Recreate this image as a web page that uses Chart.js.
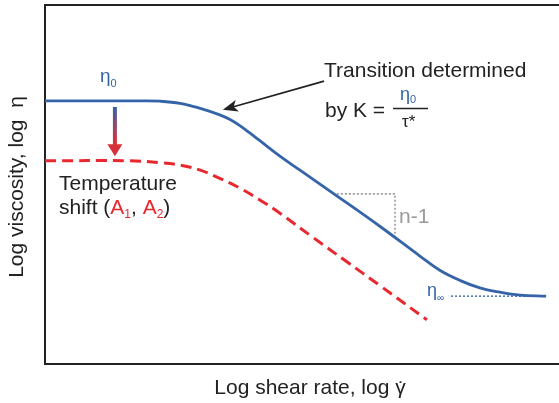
<!DOCTYPE html>
<html>
<head>
<meta charset="utf-8">
<script src="https://cdn.jsdelivr.net/npm/chart.js@4.4.1/dist/chart.umd.min.js"></script>
<style>
  body { margin: 0; background: #fff; }
  canvas { display: block; }
</style>
</head>
<body>
<canvas id="flowcurve" width="559" height="403"></canvas>
<script>
// log shear rate (x) vs log viscosity (y), arbitrary units on a 0..10 frame
var blueX = [0, 1.85, 2.24, 2.63, 3.02, 3.40, 3.60, 3.79, 3.99, 4.18, 4.57, 4.96, 5.60, 6.52, 7.30, 7.68, 8.07, 8.46, 8.85, 9.24, 9.75];
var blueY = [7.33, 7.33, 7.32, 7.26, 7.12, 6.94, 6.81, 6.64, 6.43, 6.22, 5.79, 5.40, 4.76, 3.83, 3.00, 2.61, 2.33, 2.12, 2.00, 1.92, 1.89];
var redX = [0, 1.65, 2.24, 2.63, 3.02, 3.40, 3.79, 4.18, 4.57, 5.21, 5.88, 6.52, 7.43];
var redY = [5.66, 5.66, 5.61, 5.54, 5.40, 5.17, 4.90, 4.57, 4.20, 3.53, 2.84, 2.18, 1.23];
// n-1 slope triangle and eta-infinity guide
var slopeX = [5.6, 6.81, 6.81];
var slopeY = [4.74, 4.74, 3.54];
var etaInfX = [7.9, 9.35];
var etaInfY = [1.89, 1.89];
// annotation arrows (tail, tip)
var shiftArrowX = [1.36, 1.36];
var shiftArrowY = [7.16, 5.79];
var noteArrowX = [5.43, 3.46];
var noteArrowY = [7.88, 7.08];

var FONT = '"Liberation Sans", Arial, Helvetica, sans-serif';
var blue = '#3564a8';
var red = '#e8282e';
var ink = '#222222';
var gray = '#9a9a9a';

function toPoints(xs, ys) {
  return xs.map(function (x, i) { return {x: x, y: ys[i]}; });
}

function textRun(ctx, x, y, parts) {
  parts.forEach(function (p) {
    ctx.font = p.size + 'px ' + FONT;
    ctx.fillStyle = p.color;
    ctx.fillText(p.t, x, y + (p.dy || 0));
    x += ctx.measureText(p.t).width;
  });
}

function arrowHead(ctx, x0, y0, x1, y1, len, half) {
  var ang = Math.atan2(y1 - y0, x1 - x0);
  ctx.save();
  ctx.translate(x1, y1);
  ctx.rotate(ang);
  ctx.beginPath();
  ctx.moveTo(0, 0);
  ctx.lineTo(-len, -half);
  ctx.lineTo(-len * 0.75, 0);
  ctx.lineTo(-len, half);
  ctx.closePath();
  ctx.fill();
  ctx.restore();
}

var annotations = {
  id: 'annotations',
  afterDatasetsDraw: function (chart) {
    var ctx = chart.ctx, a = chart.chartArea;
    var sx = chart.scales.x, sy = chart.scales.y;
    ctx.save();

    // top frame line
    ctx.strokeStyle = ink;
    ctx.lineWidth = 2;
    ctx.beginPath();
    ctx.moveTo(a.left - 1, a.top);
    ctx.lineTo(a.right, a.top);
    ctx.stroke();

    // temperature shift arrow, blue -> red
    var ax = sx.getPixelForValue(shiftArrowX[0]);
    var ay0 = sy.getPixelForValue(shiftArrowY[0]);
    var ay1 = sy.getPixelForValue(shiftArrowY[1]);
    var grad = ctx.createLinearGradient(0, ay0, 0, ay1);
    grad.addColorStop(0, blue);
    grad.addColorStop(0.7, '#d8303a');
    grad.addColorStop(1, '#d8303a');
    ctx.strokeStyle = grad;
    ctx.fillStyle = '#d8303a';
    ctx.lineWidth = 4;
    ctx.beginPath();
    ctx.moveTo(ax, ay0);
    ctx.lineTo(ax, ay1 - 10);
    ctx.stroke();
    ctx.beginPath();
    ctx.moveTo(ax - 7.5, ay1 - 12);
    ctx.lineTo(ax + 7.5, ay1 - 12);
    ctx.lineTo(ax, ay1);
    ctx.closePath();
    ctx.fill();

    // transition note arrow
    var nx0 = sx.getPixelForValue(noteArrowX[0]), ny0 = sy.getPixelForValue(noteArrowY[0]);
    var nx1 = sx.getPixelForValue(noteArrowX[1]), ny1 = sy.getPixelForValue(noteArrowY[1]);
    ctx.strokeStyle = ink;
    ctx.fillStyle = ink;
    ctx.lineWidth = 1.6;
    ctx.beginPath();
    ctx.moveTo(nx0, ny0);
    ctx.lineTo(nx1 + (nx0 - nx1) * 0.08, ny1 + (ny0 - ny1) * 0.08);
    ctx.stroke();
    arrowHead(ctx, nx0, ny0, nx1, ny1, 15, 6);

    ctx.textAlign = 'left';
    ctx.textBaseline = 'alphabetic';

    // eta_0 label
    textRun(ctx, 100, 82, [
      {t: 'η', color: blue, size: 19},
      {t: '0', color: blue, size: 11, dy: 5}
    ]);

    // transition text with fraction
    textRun(ctx, 324, 77, [{t: 'Transition determined', color: ink, size: 21}]);
    textRun(ctx, 325, 117, [{t: 'by K =', color: ink, size: 21}]);
    textRun(ctx, 400, 100, [
      {t: 'η', color: blue, size: 18},
      {t: '0', color: blue, size: 11, dy: 3}
    ]);
    ctx.strokeStyle = ink;
    ctx.lineWidth = 1.5;
    ctx.beginPath();
    ctx.moveTo(393, 108.5);
    ctx.lineTo(428, 108.5);
    ctx.stroke();
    textRun(ctx, 402, 127, [{t: 'τ*', color: ink, size: 17}]);

    // temperature shift text
    textRun(ctx, 59, 190, [{t: 'Temperature', color: ink, size: 21}]);
    textRun(ctx, 59, 214, [
      {t: 'shift (', color: ink, size: 21},
      {t: 'A', color: red, size: 21},
      {t: '1', color: red, size: 12, dy: 4},
      {t: ', ', color: ink, size: 21},
      {t: 'A', color: red, size: 21},
      {t: '2', color: red, size: 12, dy: 4},
      {t: ')', color: ink, size: 21}
    ]);

    // slope label
    textRun(ctx, 399, 223, [{t: 'n-1', color: gray, size: 21}]);

    // eta_inf label
    textRun(ctx, 427, 296, [
      {t: 'η', color: blue, size: 18},
      {t: '∞', color: blue, size: 10, dy: 5}
    ]);

    // axis titles
    ctx.fillStyle = ink;
    ctx.font = '21px ' + FONT;
    ctx.textAlign = 'center';
    ctx.fillText('Log shear rate, log γ', 310, 394);
    var fullW = ctx.measureText('Log shear rate, log γ').width;
    var gW = ctx.measureText('γ').width;
    ctx.fillText('˙', 310 + fullW / 2 - gW / 2 + 1, 396);

    ctx.save();
    ctx.translate(17, 187);
    ctx.rotate(-Math.PI / 2);
    ctx.textBaseline = 'middle';
    ctx.fillText('Log viscosity, log  η', 0, 0);
    ctx.restore();

    ctx.restore();
  }
};

new Chart(document.getElementById('flowcurve'), {
  type: 'line',
  data: {
    datasets: [
      {
        label: 'Reference temperature',
        data: toPoints(blueX, blueY),
        borderColor: blue,
        borderWidth: 2.8,
        pointRadius: 0,
        tension: 0.4
      },
      {
        label: 'Shifted temperature',
        data: toPoints(redX, redY),
        borderColor: red,
        borderWidth: 3,
        borderDash: [11, 6],
        pointRadius: 0,
        tension: 0.4
      },
      {
        label: 'n-1',
        data: toPoints(slopeX, slopeY),
        borderColor: gray,
        borderWidth: 1.6,
        borderDash: [2, 2],
        pointRadius: 0,
        tension: 0
      },
      {
        label: 'eta inf',
        data: toPoints(etaInfX, etaInfY),
        borderColor: blue,
        borderWidth: 1.4,
        borderDash: [2, 2],
        pointRadius: 0,
        tension: 0
      }
    ]
  },
  options: {
    responsive: false,
    animation: false,
    layout: { padding: { top: 5, right: 0, bottom: 0, left: 0 } },
    plugins: {
      legend: { display: false },
      tooltip: { enabled: false }
    },
    scales: {
      x: {
        type: 'linear',
        min: 0,
        max: 10,
        ticks: { display: false },
        grid: { display: false },
        border: { display: true, color: ink, width: 2 },
        afterFit: function (scale) { scale.height = 39; }
      },
      y: {
        type: 'linear',
        min: 0,
        max: 10,
        ticks: { display: false },
        grid: { display: false },
        border: { display: true, color: ink, width: 2 },
        afterFit: function (scale) { scale.width = 45; }
      }
    }
  },
  plugins: [annotations]
});
</script>
</body>
</html>
